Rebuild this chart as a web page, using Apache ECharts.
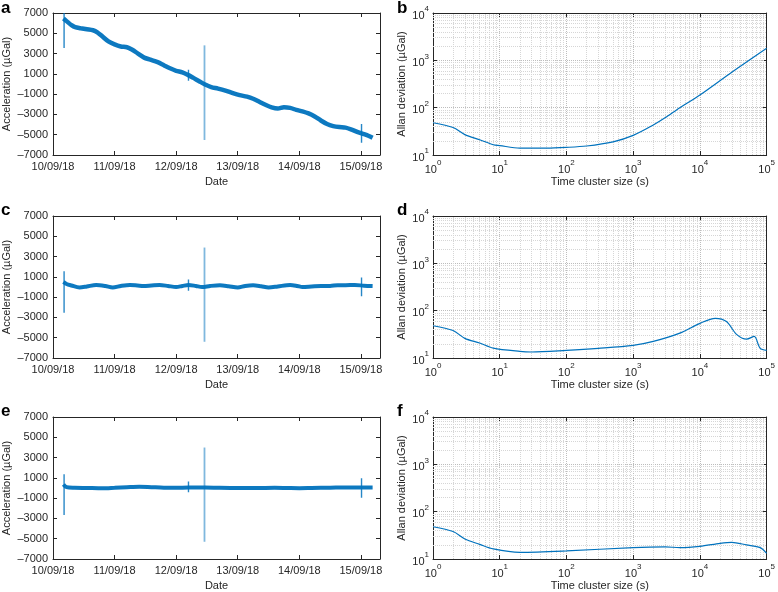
<!DOCTYPE html>
<html><head><meta charset="utf-8">
<script src="https://cdn.jsdelivr.net/npm/echarts@6/dist/echarts.min.js"></script>
<style>html,body{margin:0;padding:0;background:#fff}#c{width:778px;height:592px}</style>
</head><body><div id="c"></div>
<script>
// ---------- tick labels ----------
const dateLabels = ['10/09/18','11/09/18','12/09/18','13/09/18','14/09/18','15/09/18'];
const dateTickDays = [0,1,2,3,4,5];
const accTicks = [-7000,-5000,-3000,-1000,1000,3000,5000,7000];
const minorMult = [2,3,4,5,6,7,8,9];
const xDecades = [1,10,100,1000,10000];
const yDecades = [10,100,1000];
const panelLetters = ['a','b','c','d','e','f'];

// ---------- panel a (days since 10/09/18, µGal) ----------
const aDays = [0.17,0.22,0.30,0.36,0.45,0.55,0.65,0.72,0.80,0.90,1.00,1.10,1.20,1.28,1.38,1.48,1.58,1.70,1.80,1.90,2.00,2.10,2.19,2.28,2.38,2.47,2.57,2.68,2.80,2.92,3.03,3.15,3.25,3.35,3.45,3.55,3.65,3.75,3.85,3.95,4.05,4.15,4.25,4.35,4.45,4.55,4.65,4.75,4.85,4.95,5.05,5.12,5.19];
const aVals = [6450,6200,5800,5600,5500,5400,5300,5100,4700,4200,3900,3700,3620,3400,3000,2600,2400,2150,1850,1550,1300,1150,900,600,250,-50,-300,-450,-650,-900,-1100,-1250,-1450,-1750,-2050,-2300,-2420,-2280,-2350,-2550,-2700,-2900,-3200,-3600,-3950,-4150,-4250,-4300,-4500,-4750,-4950,-5100,-5300];
const aSpikeDays = [0.18,2.20,2.46,5.01];
const aSpikeLo = [3540,310,-5520,-5780];
const aSpikeHi = [7000,1400,3810,-3940];

// ---------- panel c ----------
const cDays = [0.17,0.22,0.30,0.43,0.55,0.70,0.85,0.97,1.10,1.25,1.37,1.47,1.60,1.73,1.87,2.00,2.10,2.20,2.32,2.42,2.55,2.71,2.85,3.00,3.12,3.25,3.38,3.50,3.65,3.85,3.97,4.05,4.20,4.35,4.50,4.62,4.75,4.90,5.05,5.19];
const cVals = [500,300,150,-50,50,200,100,-50,100,200,150,100,150,200,100,0,100,200,100,0,100,170,80,-50,100,170,70,-50,50,200,100,0,50,100,100,180,180,200,130,100];
const cSpikeDays = [0.18,2.20,2.46,5.01];
const cSpikeLo = [-2540,-380,-5400,-900];
const cSpikeHi = [1550,740,3890,930];

// ---------- panel e ----------
const eDays = [0.17,0.22,0.35,0.55,0.80,1.00,1.20,1.40,1.60,1.80,2.00,2.20,2.47,2.70,3.00,3.30,3.60,3.80,4.00,4.20,4.50,4.80,5.00,5.19];
const eVals = [350,80,20,0,-30,20,80,130,80,30,20,50,50,20,0,0,20,0,-20,0,30,60,50,50];
const eSpikeDays = [0.18,2.20,2.46,5.01];
const eSpikeLo = [-2660,-420,-5300,-950];
const eSpikeHi = [1360,630,3990,970];

// ---------- Allan deviation (tau s, µGal) ----------
const bTau = [1,2,3,5,8,10,20,50,100,200,500,1000,2000,3000,5000,10000,30000,100000];
const bDev = [48,38,27,21,16.5,15.8,14,14,14.5,15.5,19,26,43,61,100,185,560,1800];
const dTau = [1,2,3,5,8,20,30,100,300,1000,2000,5000,10000,17000,25000,35000,50000,65000,80000,100000];
const dDev = [48,38,26,20.7,16.2,13.8,13.4,14.5,16,18.5,22.4,33.5,54,69,59,32,25,28.5,16,14.5];
const fTau = [1,2,3,5,8,20,100,1000,3000,5000,10000,20000,30000,50000,80000,100000];
const fDev = [48,38,26.5,20.4,16.3,13.8,14.8,17.4,18,17.4,18.5,21.4,22.5,19.8,17.4,13.2];

const FONT = 'Liberation Sans, Arial, Helvetica, sans-serif';
const AX = '#262626';
const BLUE = '#0072BD';
const tops = [13, 216, 417];
const grids = [], xAxes = [], yAxes = [], series = [];
const zip = (xs, ys) => xs.map((x, i) => [x, ys[i]]);

function frameAxis(extra) {
  return Object.assign({
    axisLine: {show: true, onZero: false, lineStyle: {color: AX, width: 1}},
    splitLine: {show: false},
    animation: false
  }, extra);
}
const lblStyle = {fontSize: 11, color: AX, fontFamily: FONT};
const nameStyle = {fontSize: 11, color: AX, fontFamily: FONT};

function linPanel(row, days, vals, sd, slo, shi) {
  const g = grids.length;
  grids.push({left: 53, top: tops[row], width: 327, height: 142});
  const xb = xAxes.length;
  xAxes.push(frameAxis({gridIndex: g, type: 'value', min: 0, max: 5.31, position: 'bottom',
    axisTick: {show: true, inside: true, length: 4, customValues: dateTickDays, lineStyle: {color: AX}},
    axisLabel: Object.assign({customValues: dateTickDays, margin: 6, formatter: v => dateLabels[Math.round(v)]}, lblStyle),
    name: 'Date', nameLocation: 'middle', nameGap: 21, nameTextStyle: nameStyle}));
  xAxes.push(frameAxis({gridIndex: g, type: 'value', min: 0, max: 5.31, position: 'top',
    axisTick: {show: true, inside: true, length: 4, customValues: dateTickDays, lineStyle: {color: AX}},
    axisLabel: {show: false}}));
  const yl = yAxes.length;
  yAxes.push(frameAxis({gridIndex: g, type: 'value', min: -7000, max: 7000, position: 'left',
    axisTick: {show: true, inside: true, length: 4, customValues: accTicks, lineStyle: {color: AX}},
    axisLabel: Object.assign({customValues: accTicks, margin: 5, formatter: v => v < 0 ? '\u2013' + Math.abs(v) : String(v)}, lblStyle),
    name: 'Acceleration (\u00b5Gal)', nameLocation: 'middle', nameGap: 41, nameRotate: 90, nameTextStyle: nameStyle}));
  yAxes.push(frameAxis({gridIndex: g, type: 'value', min: -7000, max: 7000, position: 'right',
    axisTick: {show: true, inside: true, length: 4, customValues: accTicks, lineStyle: {color: AX}},
    axisLabel: {show: false}}));
  sd.forEach((d, i) => {
    series.push({type: 'line', xAxisIndex: xb, yAxisIndex: yl, data: [[d, slo[i]], [d, shi[i]]],
      showSymbol: false, silent: true, animation: false, z: 2,
      lineStyle: {color: BLUE, width: i === 2 ? 1.8 : 1.4, opacity: i === 2 ? 0.5 : 0.85}});
  });
  series.push({type: 'line', xAxisIndex: xb, yAxisIndex: yl, data: zip(days, vals),
    showSymbol: false, silent: true, animation: false, z: 3, smooth: 0.3,
    lineStyle: {color: BLUE, width: row === 0 ? 4.5 : 4, opacity: 0.95}});
}

function logPanel(row, tau, dev) {
  const g = grids.length;
  grids.push({left: 433, top: tops[row], width: 337, height: 142});
  const supFmt = v => '{b|10}{s|' + Math.round(Math.log10(v)) + '}';
  const rich = {b: {fontSize: 11, color: AX, fontFamily: FONT, lineHeight: 16, verticalAlign: 'bottom'},
                s: {fontSize: 8, color: AX, fontFamily: FONT, lineHeight: 8, verticalAlign: 'top'}};
  const gl = {show: true, lineStyle: {color: '#bdbdbd', type: 'dotted', width: 1}};
  const xb = xAxes.length;
  xAxes.push(frameAxis({gridIndex: g, type: 'log', logBase: 10, min: 1, max: 100000, position: 'bottom',
    axisTick: {show: true, inside: true, length: 4, lineStyle: {color: AX}},
    axisLabel: {margin: 4, formatter: supFmt, rich: rich},
    splitLine: gl,
    name: 'Time cluster size (s)', nameLocation: 'middle', nameGap: 21, nameTextStyle: nameStyle}));
  xAxes.push(frameAxis({gridIndex: g, type: 'log', logBase: 10, min: 1, max: 100000, position: 'top',
    axisTick: {show: true, inside: true, length: 4, lineStyle: {color: AX}}, axisLabel: {show: false}}));
  const yl = yAxes.length;
  yAxes.push(frameAxis({gridIndex: g, type: 'log', logBase: 10, min: 10, max: 10000, position: 'left',
    axisTick: {show: true, inside: true, length: 4, lineStyle: {color: AX}},
    axisLabel: {margin: 4, formatter: supFmt, rich: rich},
    splitLine: gl,
    name: 'Allan deviation (\u00b5Gal)', nameLocation: 'middle', nameGap: 26, nameRotate: 90, nameTextStyle: nameStyle}));
  yAxes.push(frameAxis({gridIndex: g, type: 'log', logBase: 10, min: 10, max: 10000, position: 'right',
    axisTick: {show: true, inside: true, length: 4, lineStyle: {color: AX}}, axisLabel: {show: false}}));
  const minorX = [], minorY = [];
  xDecades.forEach(d => minorMult.forEach(m => minorX.push(d * m)));
  yDecades.forEach(d => minorMult.forEach(m => minorY.push(d * m)));
  series.push({type: 'line', xAxisIndex: xb, yAxisIndex: yl, data: [], silent: true, animation: false, z: 1,
    markLine: {z: 1, silent: true, symbol: 'none', animation: false, label: {show: false},
      lineStyle: {color: '#d6d6d6', type: 'dotted', width: 1},
      data: minorX.map(v => ({xAxis: v})).concat(minorY.map(v => ({yAxis: v})))}});
  series.push({type: 'line', xAxisIndex: xb, yAxisIndex: yl, data: zip(tau, dev),
    showSymbol: false, silent: true, animation: false, z: 6, smooth: 0.3,
    lineStyle: {color: BLUE, width: 1.2}});
}

linPanel(0, aDays, aVals, aSpikeDays, aSpikeLo, aSpikeHi);
logPanel(0, bTau, bDev);
linPanel(1, cDays, cVals, cSpikeDays, cSpikeLo, cSpikeHi);
logPanel(1, dTau, dDev);
linPanel(2, eDays, eVals, eSpikeDays, eSpikeLo, eSpikeHi);
logPanel(2, fTau, fDev);

const letterPos = [[1, 0], [397, 0], [1, 202], [397, 202], [1, 403], [397, 403]];
const graphic = panelLetters.map((t, i) => ({type: 'text', left: letterPos[i][0], top: letterPos[i][1],
  style: {text: t, font: 'bold 17px ' + FONT, fill: '#000'}}));

const chart = echarts.init(document.getElementById('c'), null, {renderer: 'canvas'});
chart.setOption({animation: false, backgroundColor: '#fff', grid: grids, xAxis: xAxes, yAxis: yAxes, series: series, graphic: graphic});
</script></body></html>
